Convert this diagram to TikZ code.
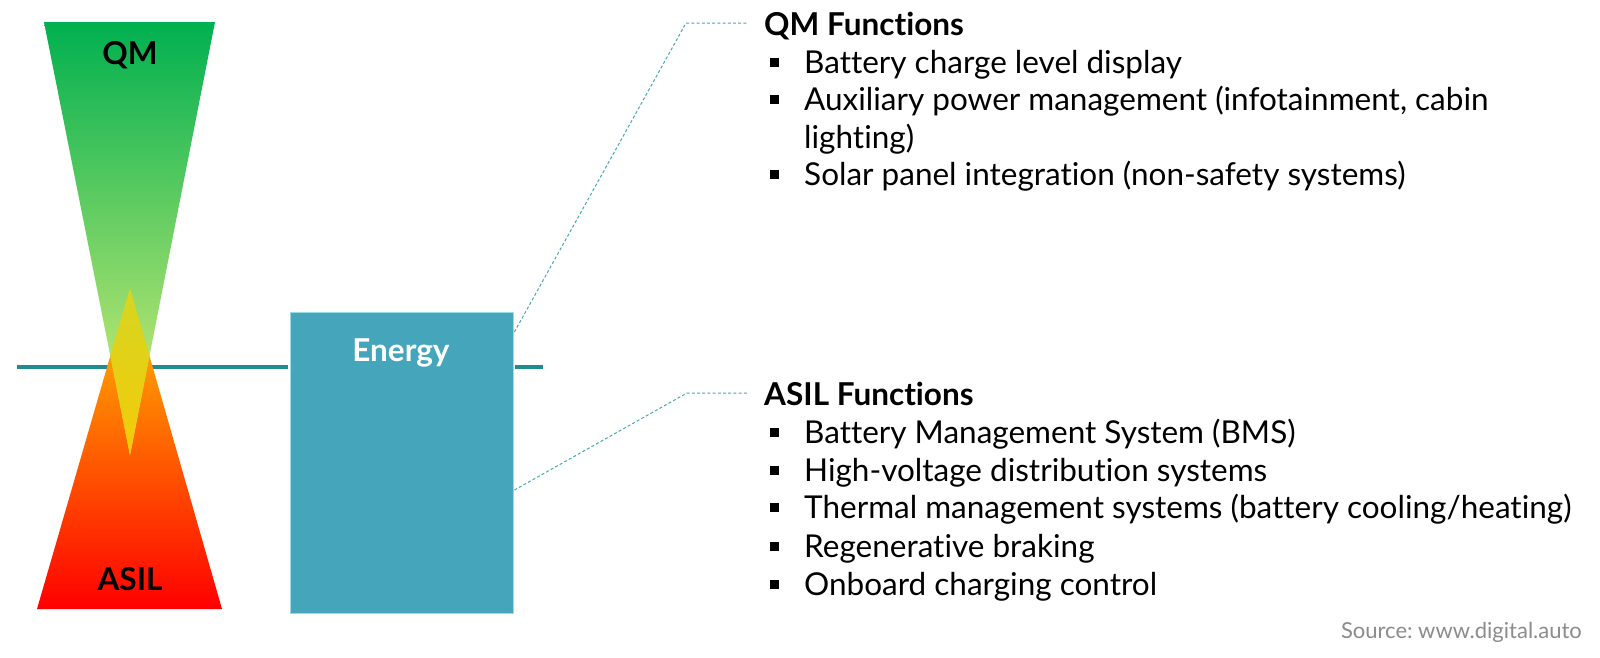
\documentclass[tikz,border=0pt]{standalone}
\usepackage{fontspec}
\setmainfont{Lato}[Ligatures=NoCommon]
\definecolor{boxc}{HTML}{45A6BB}
\definecolor{boxedge}{HTML}{9ADCE6}
\definecolor{linec}{HTML}{1E8C90}
\definecolor{dotc}{HTML}{4AA8AE}
\definecolor{srcc}{HTML}{8C8C8C}
\definecolor{gtop}{HTML}{00B050}
\definecolor{gmid}{HTML}{7CC84E}
\definecolor{gbot}{HTML}{E2F27A}
\definecolor{otop}{HTML}{FFC400}
\definecolor{omid}{HTML}{FF9000}
\definecolor{obot}{HTML}{FF0000}
\definecolor{ytop}{HTML}{D6D622}
\definecolor{ybot}{HTML}{F4CA08}
\tikzset{
  bigtxt/.style={font=\fontsize{31.5}{37}\selectfont, inner sep=0pt},
  boldtxt/.style={font=\fontsize{31.5}{37}\selectfont\bfseries, inner sep=0pt},
  item/.style={bigtxt, anchor=base west},
  bulletsq/.style={fill=black, minimum width=9pt, minimum height=9pt, inner sep=0pt},
  connector/.style={dotc, line width=1pt, dash pattern=on 3pt off 2.2pt},
  axisline/.style={linec, line width=4pt},
}
\frenchspacing
\begin{document}
\frenchspacing
\begin{tikzpicture}[x=1pt,y=-1pt]
\useasboundingbox[fill=white] (0,0) rectangle (1600,657);

% horizontal axis line (behind the triangles)
\coordinate (lstart) at (17,367);
\coordinate (lend) at (543,367);

% Energy box
\node[fill=boxc, draw=boxedge, line width=0.8pt, minimum width=223pt, minimum height=301pt, inner sep=0pt] (energy) at (401.5,462.5) {};
\node[boldtxt, text=white] (elabel) at (401,353) {Energy};

\draw[axisline] (lstart) -- ([xshift=-2pt]energy.west |- lstart);
\draw[axisline] ([xshift=2pt]energy.east |- lend) -- (lend);

% triangles
\shade[top color=otop, middle color=omid, bottom color=obot] (130,288) -- (222,609) -- (37,609) -- cycle;
\shade[top color=gtop, middle color=gmid, bottom color=gbot] (44,22) -- (215,22) -- (130,455) -- cycle;
\begin{scope}
  \clip (44,22) -- (215,22) -- (130,455) -- cycle;
  \clip (130,288) -- (222,609) -- (37,609) -- cycle;
  \shade[top color=ytop, bottom color=ybot] (30,288) rectangle (230,455);
\end{scope}
\node[boldtxt] (qm) at (130,55) {QM};
\node[boldtxt] (asil) at (130,579) {ASIL};

% QM functions
\node[boldtxt, anchor=base west] (qmtitle) at (764,35) {QM Functions};
\coordinate (qmcorner) at (686,23);
\coordinate (qmend) at (747,23);
\coordinate (qmstart) at ([xshift=1pt]energy.east |- 0,332);
\draw[connector] (qmstart) -- (qmcorner) -- (qmend);

\foreach \n/\y/\t in {1/73/{Battery charge level display},
                      2/110.5/{Auxiliary power management (infotainment, cabin},
                      4/185.5/{Solar panel integration (non-safety systems)}}{
  \node[bulletsq] (qb\n) at (774,\y-11) {};
  \node[item] (qi\n) at (804,\y) {\t};
}
\node[item] (qi3) at (804,148) {lighting)};

% ASIL functions
\node[boldtxt, anchor=base west] (asiltitle) at (764,405) {ASIL Functions};
\coordinate (ascorner) at (687,393);
\coordinate (asend) at (747,393);
\coordinate (asstart) at ([xshift=1pt]energy.east |- 0,490);
\draw[connector] (asstart) -- (ascorner) -- (asend);

\foreach \n/\y/\t in {1/443/{Battery Management System (BMS)},
                      2/481/{High-voltage distribution systems},
                      3/518.5/{Thermal management systems (battery cooling/heating)},
                      4/557/{Regenerative braking},
                      5/595/{Onboard charging control}}{
  \node[bulletsq] (ab\n) at (774,\y-11) {};
  \node[item] (ai\n) at (804,\y) {\t};
}

% source
\node[font=\fontsize{22}{26}\selectfont, text=srcc, anchor=base east, inner sep=0pt] (src) at (1582,638) {Source: www.digital.auto};
\end{tikzpicture}
\end{document}
